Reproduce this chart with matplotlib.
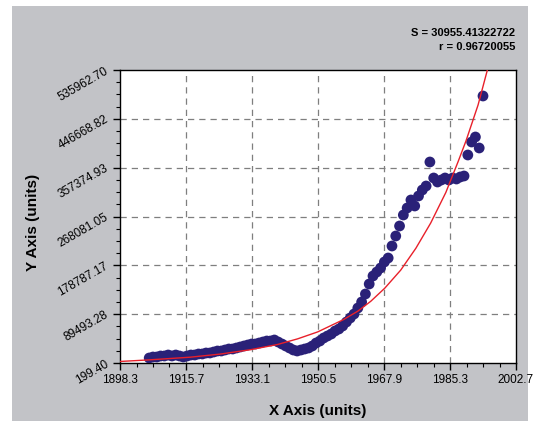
import matplotlib

matplotlib.use("Agg")
import matplotlib.pyplot as plt
from matplotlib.patches import Rectangle
from matplotlib.ticker import AutoMinorLocator, FixedLocator

plt.rcParams["font.family"] = ["Liberation Sans", "DejaVu Sans"]

# ── data ─────────────────────────────────────────────────────────────────
years = list(range(1906, 1995))
values = [
    9340, 11170, 11170, 13000, 13000, 14830, 13000, 14830, 13000, 11170,
    13000, 14830, 14830, 16660, 16660, 18490, 18490, 20310, 22140, 22140,
    23970, 25800, 25800, 27630, 29460, 31290, 33110, 34940, 34940, 36770,
    38600, 40430, 40430, 42260, 38600, 34940, 31290, 27630, 23970, 22140,
    23970, 25800, 27630, 31290, 36770, 40430, 45920, 49570, 53230, 58710,
    62370, 67860, 75170, 82490, 89800, 100770, 111740, 126370, 144660, 159290,
    166600, 173920, 184890, 192200, 214150, 232430, 250720, 270830, 283630, 298280,
    287290, 305570, 316540, 323860, 367750, 338490, 331170, 334830, 338490, 334830,
    338490, 336660, 340320, 342150, 380550, 404320, 413470, 393350, 488430,
]

# fitted curve (red), sampled along the reference line
fit_x = [1898.3, 1906.2, 1916.8, 1924.7, 1932.7, 1939.8, 1945.1, 1950.4,
         1957.2, 1961.0, 1964.4, 1968.1, 1972.3, 1976.3, 1980.2, 1984.2,
         1987.4, 1989.5, 1992.7, 1995.0, 1996.0]
fit_y = [3000, 6000, 10800, 16500, 24500, 34000, 44300, 57000,
         79500, 95000, 113000, 137000, 170000, 210000, 256000, 312000,
         367750, 406000, 472000, 532000, 560000]

x_ticks = [1898.3, 1915.7, 1933.1, 1950.5, 1967.9, 1985.3, 2002.7]
y_ticks = [199.40, 89493.28, 178787.17, 268081.05, 357374.93, 446668.82, 535962.70]

stats_text = "S = 30955.41322722\nr = 0.96720055"

# ── figure ───────────────────────────────────────────────────────────────
fig = plt.figure(figsize=(5.36, 4.29), dpi=100)
fig.patch.set_facecolor("white")
fig.patches.append(Rectangle((12 / 536, 8 / 429), 516 / 536, 415 / 429,
                             transform=fig.transFigure, facecolor="#c2c3c7",
                             edgecolor="none", zorder=-10))

ax = fig.add_axes([120 / 536, 1 - 363 / 429, 396 / 536, 293 / 429])
ax.set_facecolor("white")
ax.set_axisbelow(True)

ax.scatter(years, values, s=60, color="#2a2178", edgecolors="none", zorder=3)
ax.plot(fit_x, fit_y, color="#e8202a", lw=1.0, zorder=4)

ax.set_xlim(x_ticks[0], x_ticks[-1])
ax.set_ylim(y_ticks[0], y_ticks[-1])

ax.xaxis.set_major_locator(FixedLocator(x_ticks))
ax.yaxis.set_major_locator(FixedLocator(y_ticks))
ax.xaxis.set_minor_locator(AutoMinorLocator(4))
ax.yaxis.set_minor_locator(AutoMinorLocator(4))
ax.set_xticklabels([f"{v:.1f}" for v in x_ticks], fontsize=8.5)
ax.set_yticklabels([f"{v:.2f}" for v in y_ticks], fontsize=8.5,
                   rotation=30, ha="right", va="center", rotation_mode="anchor")

ax.tick_params(which="major", direction="out", length=5, width=1, color="black")
ax.tick_params(which="minor", direction="out", length=3, width=0.8, color="black")
ax.tick_params(axis="x", pad=3)
ax.tick_params(axis="y", pad=4)

for v in x_ticks[1:-1]:
    ax.axvline(v, color="#7f7f7f", lw=0.9, ls=(0, (5, 4)), zorder=1)
for v in y_ticks[1:-1]:
    ax.axhline(v, color="#7f7f7f", lw=0.9, ls=(0, (5, 4)), zorder=1)

for sp in ax.spines.values():
    sp.set_color("black")
    sp.set_linewidth(1.0)

fig.text(318 / 536, 1 - 411 / 429, "X Axis (units)", ha="center", va="center",
         fontsize=11, fontweight="bold")
fig.text(33 / 536, 1 - 222 / 429, "Y Axis (units)", ha="center", va="center",
         rotation=90, fontsize=11, fontweight="bold")
fig.text(515 / 536, 1 - 40 / 429, stats_text, ha="right", va="center",
         fontsize=8, fontweight="bold", linespacing=1.6)

fig.savefig("out.png", dpi=100)
